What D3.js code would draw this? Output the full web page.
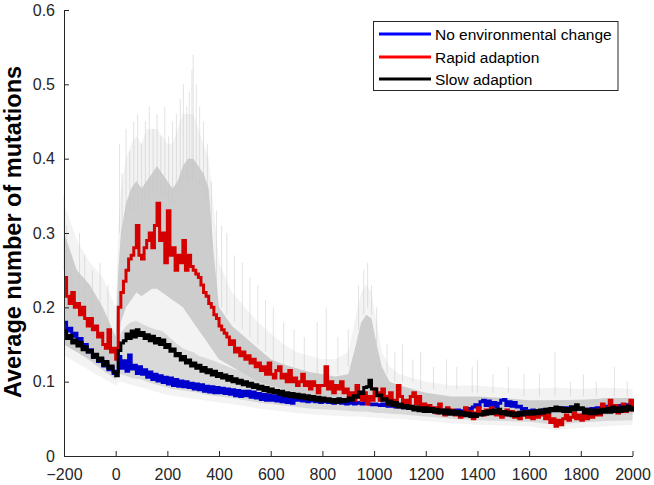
<!DOCTYPE html>
<html><head><meta charset="utf-8">
<script src="https://cdn.jsdelivr.net/npm/d3@7"></script>
<style>
html,body{margin:0;padding:0;background:#fff;}
svg{display:block;font-family:"Liberation Sans",Arial,Helvetica,sans-serif;}
</style></head>
<body><svg id="chart" width="654" height="485"></svg>
<script>
// ---------- DATA ----------
const genStart = -200, genEnd = 2000, genStep = 10;
const seriesNames = ["No environmental change", "Rapid adaption", "Slow adaption"];
const xTicks = [-200,0,200,400,600,800,1000,1200,1400,1600,1800,2000];
const yTicks = [0,0.1,0.2,0.3,0.4,0.5,0.6];

const blueVals = [
0.18,0.168,0.172,0.161,0.165,0.155,0.158,0.147,0.15,0.14,
0.143,0.133,0.136,0.127,0.13,0.121,0.124,0.116,0.119,0.111,
0.114,0.134,0.118,0.128,0.114,0.136,0.117,0.122,0.111,0.12,
0.11,0.116,0.106,0.113,0.103,0.11,0.101,0.108,0.099,0.106,
0.097,0.105,0.095,0.103,0.094,0.101,0.093,0.1,0.092,0.098,
0.09,0.097,0.089,0.096,0.087,0.094,0.086,0.093,0.085,0.092,
0.085,0.091,0.084,0.09,0.083,0.089,0.081,0.088,0.08,0.087,
0.081,0.087,0.079,0.086,0.078,0.084,0.076,0.083,0.075,0.082,
0.075,0.081,0.074,0.08,0.073,0.079,0.072,0.079,0.071,0.078,
0.075,0.076,0.074,0.075,0.073,0.075,0.074,0.073,0.075,0.072,
0.074,0.073,0.072,0.074,0.071,0.073,0.072,0.071,0.073,0.07,
0.072,0.071,0.07,0.072,0.071,0.07,0.072,0.071,0.07,0.069,
0.07,0.069,0.068,0.07,0.068,0.067,0.069,0.067,0.066,0.068,
0.066,0.065,0.066,0.064,0.065,0.064,0.063,0.064,0.062,0.063,
0.062,0.063,0.061,0.062,0.06,0.061,0.06,0.062,0.06,0.061,
0.059,0.06,0.062,0.06,0.061,0.063,0.062,0.064,0.066,0.069,
0.066,0.073,0.075,0.068,0.074,0.067,0.072,0.066,0.071,0.075,
0.076,0.068,0.073,0.067,0.072,0.066,0.067,0.063,0.064,0.061,
0.061,0.062,0.06,0.061,0.06,0.062,0.061,0.063,0.062,0.064,
0.063,0.065,0.064,0.063,0.065,0.064,0.066,0.065,0.064,0.063,
0.064,0.062,0.063,0.062,0.064,0.063,0.065,0.064,0.066,0.065,
0.067,0.066,0.068,0.067,0.066,0.068,0.067,0.069,0.068,0.07,
0.072];

const redVals = [
0.24,0.215,0.205,0.22,0.2,0.205,0.19,0.2,0.185,0.175,
0.185,0.17,0.175,0.16,0.165,0.15,0.145,0.17,0.14,0.145,
0.13,0.2,0.22,0.235,0.25,0.265,0.27,0.28,0.31,0.27,
0.265,0.28,0.29,0.3,0.28,0.31,0.34,0.29,0.3,0.26,
0.33,0.27,0.28,0.25,0.27,0.26,0.29,0.25,0.27,0.255,
0.25,0.245,0.24,0.23,0.22,0.215,0.205,0.2,0.19,0.185,
0.175,0.17,0.165,0.16,0.15,0.155,0.14,0.145,0.135,0.14,
0.13,0.135,0.125,0.13,0.12,0.125,0.115,0.12,0.11,0.125,
0.11,0.105,0.115,0.12,0.105,0.11,0.1,0.115,0.1,0.105,
0.095,0.1,0.11,0.095,0.1,0.09,0.1,0.095,0.085,0.095,
0.095,0.12,0.09,0.1,0.085,0.095,0.09,0.1,0.085,0.09,
0.08,0.085,0.075,0.095,0.08,0.075,0.085,0.07,0.08,0.075,
0.09,0.085,0.075,0.09,0.08,0.07,0.085,0.075,0.07,0.095,
0.08,0.07,0.075,0.065,0.08,0.085,0.07,0.08,0.065,0.07,
0.062,0.068,0.06,0.065,0.058,0.07,0.06,0.055,0.065,0.058,
0.062,0.055,0.06,0.052,0.058,0.065,0.055,0.06,0.05,0.058,
0.065,0.06,0.055,0.062,0.058,0.065,0.06,0.055,0.06,0.052,
0.058,0.062,0.055,0.06,0.052,0.058,0.05,0.055,0.06,0.052,
0.056,0.05,0.058,0.052,0.055,0.06,0.05,0.055,0.045,0.05,
0.04,0.048,0.042,0.05,0.055,0.048,0.052,0.058,0.05,0.055,
0.048,0.055,0.05,0.058,0.052,0.055,0.062,0.055,0.07,0.06,
0.065,0.075,0.06,0.068,0.058,0.062,0.07,0.06,0.065,0.075,
0.06];

const blackVals = [
0.168,0.158,0.162,0.152,0.156,0.148,0.153,0.143,0.147,0.14,
0.142,0.133,0.137,0.128,0.132,0.122,0.127,0.118,0.121,0.113,
0.108,0.142,0.152,0.155,0.164,0.158,0.168,0.16,0.17,0.162,
0.166,0.158,0.163,0.155,0.161,0.152,0.158,0.15,0.156,0.146,
0.15,0.141,0.144,0.135,0.138,0.129,0.134,0.125,0.129,0.121,
0.125,0.118,0.122,0.114,0.119,0.112,0.116,0.109,0.114,0.107,
0.111,0.105,0.109,0.102,0.107,0.1,0.104,0.098,0.102,0.096,
0.1,0.094,0.098,0.092,0.096,0.09,0.094,0.088,0.092,0.086,
0.09,0.085,0.088,0.083,0.087,0.081,0.085,0.08,0.084,0.079,
0.083,0.078,0.082,0.077,0.081,0.076,0.08,0.075,0.079,0.074,
0.078,0.074,0.077,0.073,0.076,0.072,0.077,0.073,0.076,0.074,
0.078,0.075,0.081,0.079,0.086,0.084,0.092,0.093,0.102,0.09,
0.09,0.081,0.082,0.075,0.077,0.07,0.074,0.068,0.072,0.066,
0.07,0.065,0.068,0.064,0.067,0.062,0.066,0.061,0.065,0.06,
0.065,0.06,0.064,0.059,0.063,0.058,0.062,0.057,0.062,0.056,
0.061,0.056,0.06,0.055,0.059,0.054,0.058,0.053,0.057,0.053,
0.056,0.055,0.06,0.056,0.061,0.057,0.062,0.058,0.063,0.057,
0.06,0.055,0.059,0.054,0.058,0.054,0.059,0.055,0.06,0.056,
0.06,0.056,0.061,0.057,0.062,0.058,0.063,0.059,0.064,0.061,
0.066,0.061,0.065,0.06,0.064,0.06,0.066,0.062,0.069,0.063,
0.065,0.058,0.063,0.057,0.062,0.057,0.062,0.058,0.063,0.059,
0.064,0.059,0.066,0.06,0.065,0.06,0.066,0.061,0.067,0.062,
0.067];

// grey spread of the individual runs
const grayGen = [-200,-150,-100,-50,0,10,20,40,60,80,100,120,140,160,180,200,220,240,260,280,300,320,340,360,380,400,450,500,550,600,650,700,750,800,850,900,930,950,970,990,1010,1030,1060,1100,1200,1300,1400,1500,1600,1700,1800,1900,2000];
const outerTop = [0.34,0.29,0.26,0.24,0.2,0.3,0.36,0.4,0.42,0.43,0.42,0.44,0.44,0.44,0.43,0.42,0.42,0.44,0.46,0.46,0.46,0.44,0.42,0.4,0.33,0.26,0.22,0.2,0.18,0.165,0.15,0.14,0.135,0.13,0.13,0.14,0.19,0.22,0.23,0.22,0.18,0.14,0.12,0.11,0.1,0.095,0.095,0.092,0.09,0.092,0.09,0.092,0.09];
const outerBottom = [0.135,0.125,0.115,0.105,0.095,0.1,0.1,0.098,0.096,0.094,0.092,0.09,0.088,0.086,0.084,0.082,0.081,0.08,0.079,0.078,0.077,0.076,0.075,0.074,0.073,0.072,0.07,0.067,0.064,0.062,0.06,0.058,0.056,0.055,0.054,0.053,0.053,0.053,0.052,0.052,0.051,0.051,0.05,0.05,0.047,0.044,0.042,0.041,0.04,0.035,0.038,0.04,0.042];
const innerTop = [0.3,0.25,0.23,0.2,0.16,0.25,0.3,0.34,0.36,0.37,0.36,0.37,0.38,0.39,0.38,0.37,0.36,0.37,0.39,0.4,0.4,0.39,0.38,0.36,0.27,0.2,0.175,0.16,0.145,0.13,0.123,0.118,0.113,0.11,0.107,0.11,0.15,0.18,0.19,0.185,0.15,0.12,0.1,0.095,0.085,0.08,0.08,0.078,0.075,0.075,0.075,0.078,0.078];
const innerBottom = [0.15,0.14,0.13,0.12,0.11,0.15,0.18,0.2,0.21,0.22,0.215,0.22,0.225,0.225,0.22,0.215,0.21,0.205,0.2,0.19,0.18,0.17,0.16,0.15,0.14,0.13,0.12,0.11,0.1,0.095,0.09,0.085,0.08,0.078,0.075,0.075,0.075,0.078,0.08,0.08,0.075,0.072,0.07,0.068,0.065,0.06,0.058,0.057,0.055,0.05,0.053,0.055,0.056];
const midTop = [0.19,0.175,0.16,0.145,0.13,0.16,0.165,0.175,0.18,0.182,0.178,0.175,0.172,0.17,0.168,0.162,0.156,0.15,0.145,0.142,0.14,0.135,0.133,0.13,0.128,0.125,0.118,0.112,0.107,0.102,0.098,0.095,0.094,0.092,0.09,0.092,0.096,0.1,0.108,0.108,0.098,0.09,0.085,0.082,0.078,0.075,0.074,0.074,0.073,0.075,0.076,0.076,0.078];
const midBottom = [0.15,0.14,0.128,0.115,0.103,0.11,0.11,0.108,0.105,0.104,0.103,0.1,0.098,0.096,0.094,0.092,0.09,0.089,0.088,0.087,0.086,0.085,0.083,0.082,0.081,0.08,0.078,0.075,0.072,0.07,0.068,0.066,0.064,0.063,0.062,0.061,0.06,0.06,0.06,0.059,0.058,0.058,0.057,0.056,0.053,0.05,0.048,0.047,0.046,0.042,0.045,0.047,0.048];

// faint individual spikes
const spikeGen  = [-200,-190,-170,-140,-120,-90,-60,-30,15,25,40,55,70,85,100,115,130,145,160,175,190,205,220,235,250,262,275,285,295,300,312,325,340,355,370,390,410,430,460,490,520,550,580,610,650,690,730,780,815,860,900,940,960,975,990,1010,1050,1080,1110,1150,1180,1230,1280,1320,1380,1400,1460,1520,1580,1640,1700,1760,1810,1860,1930,1980];
const spikeBase = [0.25,0.22,0.2,0.2,0.19,0.18,0.17,0.16,0.3,0.3,0.32,0.33,0.33,0.34,0.33,0.34,0.35,0.35,0.36,0.35,0.35,0.34,0.34,0.35,0.36,0.37,0.37,0.37,0.37,0.37,0.36,0.36,0.35,0.34,0.28,0.22,0.2,0.19,0.18,0.17,0.16,0.15,0.14,0.13,0.12,0.12,0.11,0.11,0.11,0.11,0.12,0.17,0.19,0.2,0.19,0.15,0.11,0.1,0.1,0.1,0.09,0.09,0.09,0.09,0.085,0.085,0.085,0.085,0.08,0.08,0.08,0.08,0.08,0.08,0.08,0.08];
const spikeTop  = [0.35,0.31,0.27,0.3,0.27,0.25,0.26,0.23,0.42,0.38,0.44,0.41,0.45,0.46,0.42,0.45,0.47,0.44,0.46,0.43,0.47,0.43,0.45,0.46,0.48,0.5,0.47,0.49,0.52,0.54,0.5,0.47,0.45,0.42,0.37,0.33,0.31,0.3,0.27,0.26,0.24,0.23,0.21,0.2,0.18,0.17,0.16,0.18,0.2,0.16,0.17,0.23,0.25,0.26,0.23,0.2,0.15,0.14,0.15,0.13,0.14,0.12,0.13,0.12,0.12,0.13,0.11,0.12,0.11,0.11,0.14,0.1,0.11,0.1,0.12,0.1];

// ---------- DRAWING ----------
const gens = d3.range(genStart, genEnd + 1, genStep);
const svg = d3.select("#chart");
svg.append("rect").attr("width",654).attr("height",485).attr("fill","#fff");

const x = d3.scaleLinear().domain([-200, 2000]).range([64, 632.5]);
const y = d3.scaleLinear().domain([0, 0.6]).range([456, 10]);

const plot = svg.append("g");

function band(top, bottom, fill) {
  const a = d3.area()
    .x((d,i) => x(grayGen[i]))
    .y0((d,i) => y(bottom[i]))
    .y1((d,i) => y(top[i]));
  plot.append("path").datum(top).attr("d", a).attr("fill", fill).attr("stroke","none");
}
band(outerTop, outerBottom, "#f3f3f3");
band(midTop, midBottom, "#d9d9d9");
band(innerTop, innerBottom, "#cdcdcd");

plot.append("g").selectAll("line").data(spikeGen).join("line")
  .attr("x1", d => x(d)).attr("x2", d => x(d))
  .attr("y1", (d,i) => y(spikeBase[i])).attr("y2", (d,i) => y(spikeTop[i]))
  .attr("stroke", "#c8c8c8").attr("stroke-width", 1).attr("stroke-opacity", 0.5);

const line = d3.line()
  .x((d,i) => x(gens[i]))
  .y(d => y(d))
  .curve(d3.curveStepAfter);

const seriesVals = [blueVals, redVals, blackVals];
const plotColors = ["#0000cc", "#d40000", "#000000"];
seriesVals.forEach((vals, k) => {
  plot.append("path").datum(vals).attr("d", line)
    .attr("fill","none").attr("stroke", plotColors[k])
    .attr("stroke-width", 3).attr("stroke-linejoin","miter");
});

// axes
const axisColor = "#262626";
const xAxis = d3.axisBottom(x).tickValues(xTicks).tickFormat(d3.format("d"))
  .tickSizeInner(-5).tickSizeOuter(0).tickPadding(13);
const yAxis = d3.axisLeft(y).tickValues(yTicks).tickFormat(d => d === 0 ? "0" : d3.format(".1f")(d))
  .tickSizeInner(-5).tickSizeOuter(0).tickPadding(9);

const gx = svg.append("g").attr("transform","translate(0,456)").call(xAxis);
const gy = svg.append("g").attr("transform","translate(64,0)").call(yAxis);
[gx, gy].forEach(g => {
  g.select(".domain").attr("stroke", axisColor).attr("stroke-width", 1);
  g.selectAll(".tick line").attr("stroke", axisColor).attr("stroke-width", 1);
  g.selectAll(".tick text").attr("fill", axisColor)
    .style("font-size","16px").style("font-family","'Liberation Sans',Arial,Helvetica,sans-serif");
});

// y label
svg.append("text")
  .attr("transform","translate(21,232) rotate(-90)")
  .attr("text-anchor","middle")
  .attr("fill","#000")
  .style("font-size","23.5px").style("font-weight","bold")
  .text("Average number of mutations");

// legend
const leg = svg.append("g");
leg.append("rect").attr("x",373.5).attr("y",21.5).attr("width",244.5).attr("height",69)
  .attr("fill","#fff").attr("stroke",axisColor).attr("stroke-width",1);
const legColors = ["#0000ff", "#ff0000", "#000000"];
const legY = [34, 57, 79];
seriesNames.forEach((name, k) => {
  leg.append("line").attr("x1",379).attr("x2",431).attr("y1",legY[k]).attr("y2",legY[k])
    .attr("stroke", legColors[k]).attr("stroke-width", 3);
  leg.append("text").attr("x",435).attr("y",legY[k] + 5.5)
    .attr("fill","#000").style("font-size","15.5px").text(name);
});
</script></body></html>
